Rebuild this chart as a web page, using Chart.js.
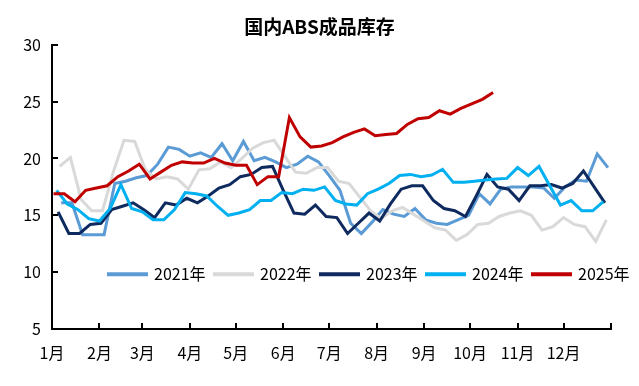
<!DOCTYPE html>
<html>
<head>
<meta charset="utf-8">
<script src="https://cdn.jsdelivr.net/npm/chart.js@4.4.1/dist/chart.umd.min.js"></script>
<style>
  html, body { margin: 0; padding: 0; background: #fff; }
</style>
</head>
<body>
<canvas id="abs-inventory-chart" width="639" height="386"></canvas>
<script>
// 国内ABS成品库存 (万吨), weekly, by year
const monthLabels = ['1月', '2月', '3月', '4月', '5月', '6月', '7月', '8月', '9月', '10月', '11月', '12月'];
const monthStartDays = [0, 31, 59, 90, 120, 151, 181, 212, 243, 273, 304, 334, 365];
const yearLabels = ['2021年', '2022年', '2023年', '2024年', '2025年'];
const firstReportDay = [6, 5, 4, 3, 1]; // day of year of each year's first weekly report

const inv2021 = [16.1, 16.1, 13.3, 13.3, 13.3, 17.8, 18.0, 18.3, 18.5, 19.5, 21.0, 20.8, 20.2, 20.5, 20.1, 21.3, 19.8, 21.5, 19.8, 20.1,
  19.7, 19.2, 19.5, 20.2, 19.7, 18.5, 17.2, 14.3, 13.4, 14.4, 15.5, 15.1, 14.9, 15.6, 14.6, 14.3, 14.2, 14.6, 15.0, 16.9,
  16.0, 17.3, 17.5, 17.5, 17.5, 17.4, 16.5, 17.5, 18.1, 18.0, 20.4, 19.2];
const inv2022 = [19.3, 20.1, 16.4, 15.4, 15.4, 18.8, 21.6, 21.5, 19.0, 18.2, 18.4, 18.2, 17.3, 19.0, 19.1, 19.7, 19.2, 20.0, 20.9, 21.4,
  21.6, 20.2, 18.8, 18.7, 19.2, 19.2, 18.0, 17.8, 16.6, 15.4, 14.7, 15.4, 15.7, 15.1, 14.5, 13.9, 13.7, 12.8, 13.3, 14.2,
  14.3, 14.9, 15.2, 15.4, 15.0, 13.7, 14.0, 14.8, 14.2, 14.0, 12.7, 14.6];
const inv2023 = [15.3, 13.4, 13.4, 14.2, 14.3, 15.5, 15.8, 16.1, 15.5, 14.8, 16.1, 15.9, 16.5, 16.1, 16.7, 17.4, 17.7, 18.4, 18.6, 19.2,
  19.3, 17.2, 15.2, 15.1, 15.9, 14.9, 14.8, 13.4, 14.3, 15.2, 14.5, 16.0, 17.3, 17.6, 17.6, 16.3, 15.6, 15.4, 14.9, 16.7,
  18.6, 17.5, 17.3, 16.3, 17.6, 17.6, 17.7, 17.4, 17.8, 18.9, 17.5, 16.1];
const inv2024 = [17.2, 16.0, 15.5, 14.7, 14.5, 15.6, 17.7, 15.6, 15.3, 14.6, 14.6, 15.5, 17.0, 16.9, 16.7, 15.8, 15.0, 15.2, 15.5, 16.3,
  16.3, 17.0, 16.9, 17.3, 17.2, 17.5, 16.3, 16.0, 15.9, 16.9, 17.3, 17.8, 18.5, 18.6, 18.4, 18.55, 19.05, 17.9, 17.9, 18.0,
  18.1, 18.2, 18.25, 19.2, 18.5, 19.3, 17.6, 15.9, 16.3, 15.4, 15.4, 16.2];
const inv2025 = [16.9, 16.9, 16.2, 17.2, 17.4, 17.6, 18.4, 18.9, 19.5, 18.2, 18.8, 19.4, 19.7, 19.6, 19.6, 20.0, 19.6, 19.4, 19.4, 17.7,
  18.4, 18.4, 23.6, 21.9, 21.0, 21.1, 21.4, 21.9, 22.3, 22.6, 22.0, 22.1, 22.2, 23.0, 23.5, 23.6, 24.2, 23.9, 24.4, 24.8,
  25.2, 25.8];

const yearValues = [inv2021, inv2022, inv2023, inv2024, inv2025];
const lineColors = ['#5B9BD5', '#D9D9D9', '#0E2A5E', '#00B0F0', '#C00000'];
const FONT = '"Noto Sans CJK SC", "Noto Sans", sans-serif';

const datasets = yearValues.map((vals, k) => ({
  label: yearLabels[k],
  data: vals.map((v, i) => ({ x: firstReportDay[k] + 7 * i, y: v })),
  borderColor: lineColors[k],
  backgroundColor: lineColors[k],
  borderWidth: 3,
  pointRadius: 0,
  tension: 0,
  order: yearValues.length - k // later years on top
}));

// inward tick marks + legend laid inside the plot, like the Excel original
const excelBits = {
  id: 'excelBits',
  afterDatasetsDraw(chart) {
    const { ctx, chartArea: area } = chart;
    const xs = chart.scales.x, ys = chart.scales.y;
    ctx.save();
    ctx.strokeStyle = '#000';
    ctx.lineWidth = 2;
    ctx.beginPath();
    xs.ticks.forEach((t, i) => {
      const px = Math.round(xs.getPixelForTick(i));
      ctx.moveTo(px, area.bottom);
      ctx.lineTo(px, area.bottom - 6);
    });
    ys.ticks.forEach((t, i) => {
      const py = Math.round(ys.getPixelForTick(i));
      ctx.moveTo(area.left, py);
      ctx.lineTo(area.left + 6, py);
    });
    ctx.stroke();

    ctx.font = '16px ' + FONT;
    ctx.textBaseline = 'middle';
    ctx.fillStyle = '#000';
    let lx = area.left + 55;
    const ly = ys.getPixelForValue(10) + 2;
    chart.data.datasets.forEach(ds => {
      ctx.strokeStyle = ds.borderColor;
      ctx.lineWidth = 4;
      ctx.beginPath();
      ctx.moveTo(lx, ly);
      ctx.lineTo(lx + 41, ly);
      ctx.stroke();
      ctx.fillText(ds.label, lx + 47, ly);
      lx += 106;
    });
    ctx.restore();
  }
};

new Chart(document.getElementById('abs-inventory-chart').getContext('2d'), {
  type: 'line',
  data: { datasets },
  options: {
    responsive: false,
    animation: false,
    plugins: {
      legend: { display: false },
      tooltip: { enabled: false },
      title: {
        display: true,
        text: '国内ABS成品库存',
        color: '#000',
        font: { family: FONT, size: 19, weight: 'bold' },
        padding: { top: 15, bottom: 7 }
      }
    },
    scales: {
      x: {
        type: 'linear',
        min: monthStartDays[0],
        max: monthStartDays[monthStartDays.length - 1],
        afterBuildTicks: scale => { scale.ticks = monthStartDays.map(d => ({ value: d })); },
        afterFit: scale => { scale.height = 57; },
        grid: { display: false, drawTicks: false },
        border: { display: true, color: '#000', width: 2 },
        ticks: {
          autoSkip: false,
          maxRotation: 0,
          padding: 14,
          color: '#000',
          font: { family: FONT, size: 16 },
          callback: (v, i) => monthLabels[i] || ''
        }
      },
      y: {
        min: 5,
        max: 30,
        afterFit: scale => { scale.width = 52; },
        grid: { display: false, drawTicks: false },
        border: { display: true, color: '#000', width: 2 },
        ticks: {
          stepSize: 5,
          padding: 11,
          color: '#000',
          font: { family: FONT, size: 16 }
        }
      },
      // empty right margin so the title stays centred on the whole canvas
      yRight: {
        position: 'right',
        afterFit: scale => { scale.width = 28; },
        grid: { display: false, drawTicks: false },
        border: { display: false },
        ticks: { display: false }
      }
    }
  },
  plugins: [excelBits]
});
</script>
</body>
</html>
